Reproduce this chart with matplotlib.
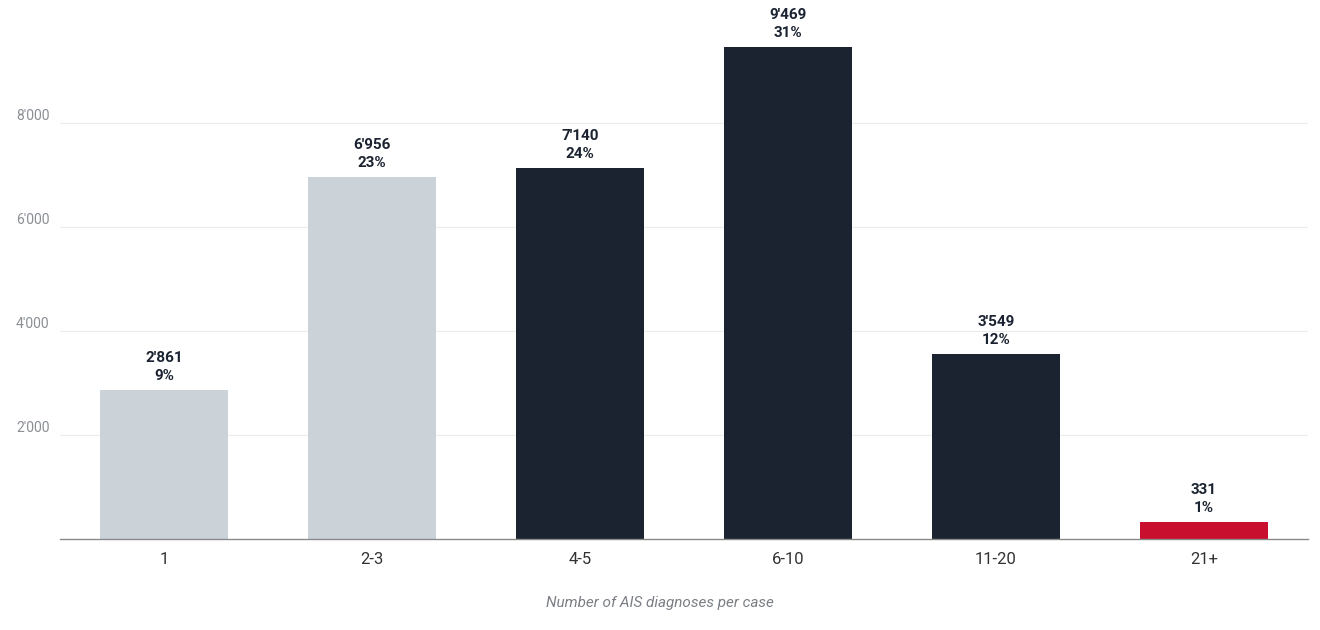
import matplotlib
matplotlib.use("Agg")
import matplotlib.pyplot as plt

categories = ["1", "2-3", "4-5", "6-10", "11-20", "21+"]
values = [2861, 6956, 7140, 9469, 3549, 331]
percents = [9, 23, 24, 31, 12, 1]
colors = ["#cbd3d9", "#cbd3d9", "#1b2331", "#1b2331", "#1b2331", "#c8102e"]
yticks = [2000, 4000, 6000, 8000]
xlabel = "Number of AIS diagnoses per case"

plt.rcParams['font.family'] = ['Roboto', 'DejaVu Sans']

W, H = 1320, 630
fig = plt.figure(figsize=(W / 100, H / 100), dpi=100)
left, right, base = 60, 1308, 539
ax = fig.add_axes([left / W, (H - base) / H, (right - left) / W, base / H])

def fmt(v):
    return f"{v:,}".replace(",", "'")

x = list(range(len(categories)))
ax.bar(x, values, width=0.615, color=colors, zorder=3)
ax.set_xlim(-0.5, len(categories) - 0.5)
ax.set_ylim(0, base / 0.052)

for xi, v, p in zip(x, values, percents):
    ax.annotate(f"{p}%", (xi, v), xytext=(0, 7), textcoords="offset pixels",
                ha="center", va="bottom", fontsize=11, fontweight="bold", color="#1b2331")
    ax.annotate(fmt(v), (xi, v), xytext=(0, 25), textcoords="offset pixels",
                ha="center", va="bottom", fontsize=11, fontweight="bold", color="#1b2331")

ax.set_yticks(yticks)
ax.set_yticklabels([fmt(t) for t in yticks])
for lab in ax.get_yticklabels():
    lab.set_horizontalalignment("left")
    lab.set_verticalalignment("bottom")
ax.tick_params(axis="y", length=0, pad=(left - 16) * 0.72, labelsize=10, labelcolor="#8a8f94")
ax.yaxis.grid(True, color="#ececec", linewidth=0.8, zorder=0)

ax.set_xticks(x)
ax.set_xticklabels(categories)
ax.tick_params(axis="x", length=0, pad=9, labelsize=12, labelcolor="#333333")
ax.set_xlabel(xlabel, fontsize=11, style="italic", color="#7a7f85")
ax.xaxis.set_label_coords((W / 2 - left) / (right - left), -(603 - base) / base, transform=ax.transAxes)
ax.xaxis.label.set_verticalalignment("center")

for s in ["top", "right", "left"]:
    ax.spines[s].set_visible(False)
ax.spines["bottom"].set_color("#8a8a8a")
ax.spines["bottom"].set_linewidth(1.0)
ax.spines["bottom"].set_zorder(4)

fig.savefig("out.png", dpi=100)
